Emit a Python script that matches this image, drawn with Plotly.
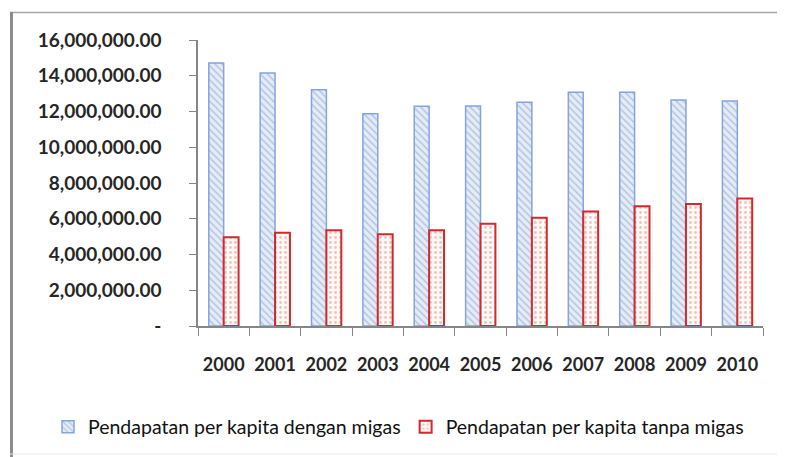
import plotly.graph_objects as go

years = ["2000", "2001", "2002", "2003", "2004", "2005", "2006", "2007", "2008", "2009", "2010"]
dengan_migas = [14720000, 14150000, 13220000, 11870000, 12290000, 12310000,
                12520000, 13070000, 13070000, 12650000, 12590000]
tanpa_migas = [4970000, 5220000, 5350000, 5130000, 5350000, 5720000,
               6050000, 6410000, 6700000, 6830000, 7130000]
y_ticks = [0, 2000000, 4000000, 6000000, 8000000, 10000000, 12000000, 14000000, 16000000]
y_ticktext = ["-", "2,000,000.00", "4,000,000.00", "6,000,000.00", "8,000,000.00",
              "10,000,000.00", "12,000,000.00", "14,000,000.00", "16,000,000.00"]

# page body has an 8px margin, so the figure is drawn 8px in from the window corner
OFF = 8
W, H = 785, 449
L, R, T, B = 198 - OFF, 30, 40 - OFF, 130
pw, ph = W - L - R, H - T - B


def px_x(x):
    # window pixel -> paper coordinate
    return (x - OFF - L) / pw


def px_y(y):
    return (H - B - (y - OFF)) / ph


fig = go.Figure()
fig.add_trace(go.Bar(
    x=years, y=dengan_migas, name="Pendapatan per kapita dengan migas",
    marker=dict(
        color="#dde7f5",
        line=dict(color="#86a4dc", width=1.5),
        pattern=dict(shape="\\", size=5, solidity=0.3, fgcolor="#8a9bc8", bgcolor="#e3ecf8"),
    ),
))
fig.add_trace(go.Bar(
    x=years, y=tanpa_migas, name="Pendapatan per kapita tanpa migas",
    marker=dict(
        color="#fff8f4",
        line=dict(color="#d2282e", width=2),
        pattern=dict(shape=".", size=5, solidity=0.25, fgcolor="#e08a8a", bgcolor="#fffaf5"),
    ),
))

fig.update_layout(
    width=W, height=H,
    margin=dict(l=L, r=R, t=T, b=B),
    paper_bgcolor="white", plot_bgcolor="white",
    barmode="group", bargap=0.42, bargroupgap=0,
    font=dict(family="Lato", color="#222222"),
    showlegend=True,
    legend=dict(
        orientation="h", x=px_x(48), xanchor="left", y=px_y(427), yanchor="middle",
        font=dict(size=19.5, family="Lato", color="#111111"),
        itemwidth=30, tracegroupgap=0, bgcolor="rgba(0,0,0,0)",
    ),
    xaxis=dict(
        showline=True, linecolor="#868686", linewidth=1.5,
        ticks="outside", tickson="boundaries", ticklen=8, tickcolor="#868686",
        tickfont=dict(size=18, family="Lato", weight="bold", color="#262626"),
        ticklabelstandoff=22, showgrid=False,
    ),
    yaxis=dict(
        range=[0, 16000000], tickvals=y_ticks, ticktext=y_ticktext,
        showline=True, linecolor="#868686", linewidth=1.5,
        ticks="outside", ticklen=7, tickcolor="#868686",
        tickfont=dict(size=19, family="Lato", weight="bold", color="#262626"),
        ticklabelstandoff=24, showgrid=False, zeroline=False,
    ),
    shapes=[
        dict(type="line", xref="paper", yref="paper", x0=px_x(10), x1=px_x(800),
             y0=px_y(12.5), y1=px_y(12.5), line=dict(color="#a6a6a6", width=1.5)),
        dict(type="line", xref="paper", yref="paper", x0=px_x(11.5), x1=px_x(11.5),
             y0=px_y(12), y1=px_y(470), line=dict(color="#8c8c8c", width=3)),
        dict(type="line", xref="paper", yref="paper", x0=px_x(10), x1=px_x(800),
             y0=px_y(455.5), y1=px_y(455.5), line=dict(color="#e6e6e6", width=1)),
    ],
)

fig.write_html("out.html")
